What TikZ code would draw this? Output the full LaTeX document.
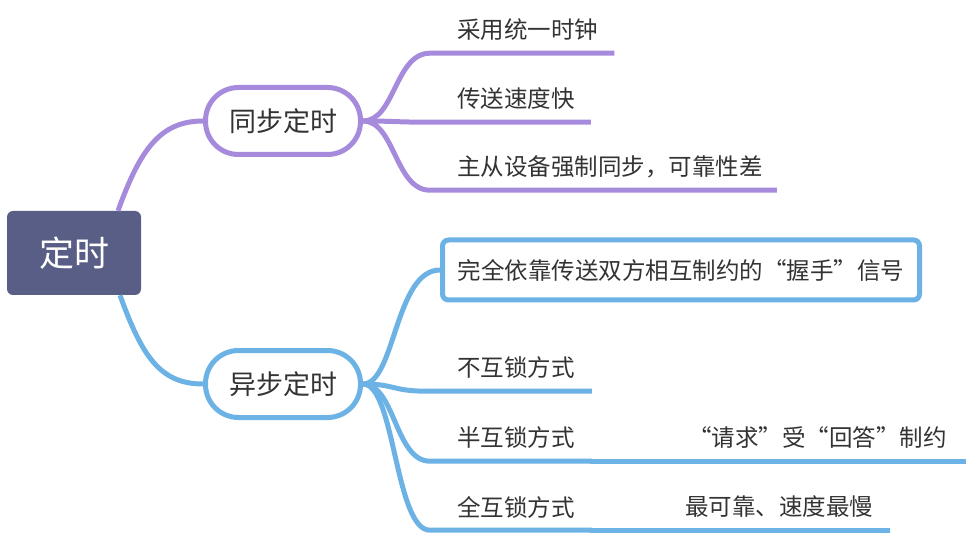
\documentclass[tikz,border=0pt]{standalone}
\usepackage{fontspec}
\setmainfont{Noto Sans CJK SC}
\usepackage{xcolor}
\usepackage{tikz}
\usetikzlibrary{positioning}

\definecolor{rootfill}{RGB}{88,94,133}
\definecolor{syncpurple}{RGB}{166,139,221}
\definecolor{asyncblue}{RGB}{108,178,228}
\definecolor{textgray}{RGB}{51,51,51}

\tikzset{
  rootbox/.style={fill=rootfill, rounded corners=6pt, minimum width=134pt,
    minimum height=84pt, text=white, font=\fontsize{35}{40}\selectfont},
  topic/.style={draw, line width=5pt, fill=white, rounded corners=33pt,
    minimum width=155pt, minimum height=67pt, text=textgray,
    font=\fontsize{27}{32}\selectfont},
  leaf/.style={anchor=west, inner xsep=0pt, inner ysep=0pt, minimum height=46pt,
    text=textgray, font=\fontsize{23.5}{28}\selectfont},
  handbox/.style={draw=asyncblue, line width=5pt, rounded corners=6pt,
    minimum width=477pt, minimum height=60pt, text=textgray,
    font=\fontsize{23.5}{28}\selectfont},
  syncline/.style={syncpurple, line width=5pt},
  asyncline/.style={asyncblue, line width=5pt},
}

\begin{document}
\begin{tikzpicture}[x=1pt, y=-1pt]
        \useasboundingbox (0,0) rectangle (968,534);
        % root and the two main topics
        \node[rootbox] (root) at (74,253) {定时};
        \node[topic, draw=syncpurple] (sync) at (283,121) {同步定时};
        \node[topic, draw=asyncblue] (async) at (283,384) {异步定时};

        % synchronous details
        \node[leaf] (clock) at (457,30) {采用统一时钟};
        \node[leaf] (fast) at (457,99) {传送速度快};
        \node[leaf] (master) at (457,167) {主从设备强制同步，可靠性差};

        % asynchronous details
        \node[handbox] (hand) at (681,270) {完全依靠传送双方相互制约的“握手”信号};
        \node[leaf] (nolock) at (457,368) {不互锁方式};
        \node[leaf] (halflock) at (457,438) {半互锁方式};
        \node[leaf] (fulllock) at (457,507) {全互锁方式};
        \node[leaf] (request) at (688,438) {“请求”受“回答”制约};
        \node[leaf] (reliable) at (685,507) {最可靠、速度最慢};

        \draw[syncline] ([xshift=44pt]root.north) .. controls +(22,-61) and +(-43,0) .. (sync.west);
        \draw[asyncline] ([xshift=46pt]root.south) .. controls +(22,61) and +(-43,0) .. (async.west);

        \draw[syncline] (sync.east) .. controls +(32,0) and +(-35,0) .. ([xshift=-27pt]clock.south west) -- ([xshift=16pt]clock.south east);
        \draw[syncline] (sync.east) .. controls +(32,0) and +(-35,0) .. ([xshift=-27pt]fast.south west) -- ([xshift=16pt]fast.south east);
        \draw[syncline] (sync.east) .. controls +(32,0) and +(-35,0) .. ([xshift=-27pt]master.south west) -- ([xshift=14pt]master.south east);

        \draw[asyncline] (async.east) .. controls +(32,0) and +(-45,0) .. (hand.west);
        \draw[asyncline] (async.east) .. controls +(32,0) and +(-35,0) .. ([xshift=-30pt]nolock.south west) -- ([xshift=17pt]nolock.south east);
        \draw[asyncline] (async.east) .. controls +(32,0) and +(-35,0) .. ([xshift=-27pt]halflock.south west) -- ([xshift=17pt]halflock.south east);
        \draw[asyncline] (async.east) .. controls +(32,0) and +(-35,0) .. ([xshift=-27pt]fulllock.south west) -- ([xshift=17pt]fulllock.south east);
        \draw[asyncline] ([xshift=17pt]halflock.south east) -- ([xshift=-98pt]request.south west) -- ([xshift=19pt]request.south east);
        \draw[asyncline] ([xshift=17pt]fulllock.south east) -- ([xshift=-95pt]reliable.south west) -- ([xshift=17pt]reliable.south east);
      \end{tikzpicture}
\end{document}
